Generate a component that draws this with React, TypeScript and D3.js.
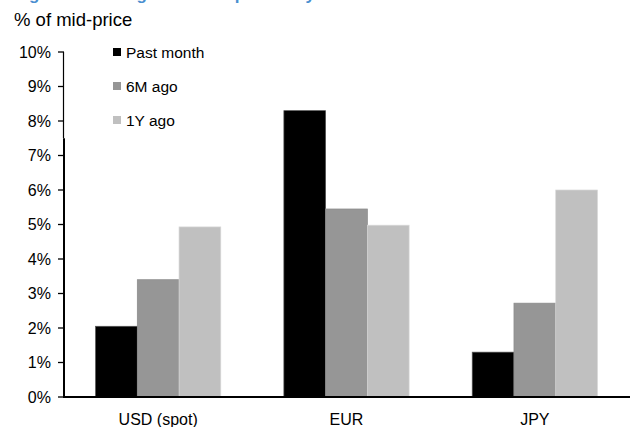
import React from "react";
import * as d3 from "d3";

const categories = ["USD (spot)", "EUR", "JPY"];
const seriesNames = ["Past month", "6M ago", "1Y ago"];
const pastMonth = [2.05, 8.3, 1.3];
const sixMonthsAgo = [3.4, 5.45, 2.72];
const oneYearAgo = [4.93, 4.98, 6.0];
const yTicks = [0, 1, 2, 3, 4, 5, 6, 7, 8, 9, 10];
const colors = ["#000000", "#969696", "#c0c0c0"];
const strokes = ["#555555", "#8a8a8a", "#d8d8d8"];

const W = 630;
const H = 427;
const left = 64;
const right = 629;
const top = 52;
const bottom = 397;
const FONT = "'Liberation Sans', Arial, sans-serif";

export default function App() {
  const series = [pastMonth, sixMonthsAgo, oneYearAgo];
  const x0 = d3.scaleBand<string>().domain(categories).range([left, right]).paddingInner(0.335).paddingOuter(0.1675);
  const x1 = d3.scaleBand<string>().domain(seriesNames).range([0, x0.bandwidth()]);
  const y = d3.scaleLinear().domain([0, 10]).range([bottom, top]);

  return (
    <svg width={W} height={H} style={{ position: "absolute", left: 0, top: 0, background: "#fff" }} fontFamily={FONT}>
      <text x={14} y={0} fontSize={17} fontWeight="bold" fill="#4a8fd0">Figure 9: Average bid-ask spreads by tenor</text>
      <text x={14} y={26} fontSize={18.5} fill="#000">% of mid-price</text>
      {categories.map((c, i) => (
        <g key={c}>
          {seriesNames.map((s, j) => {
            const v = series[j][i];
            return (
              <rect key={s} x={(x0(c) as number) + (x1(s) as number)} y={y(v)} width={x1.bandwidth()} height={y(0) - y(v)} fill={colors[j]} stroke={strokes[j]} strokeWidth={0.7} />
            );
          })}
          <text x={(x0(c) as number) + x0.bandwidth() / 2} y={425} textAnchor="middle" fontSize={16} fill="#000">{c}</text>
        </g>
      ))}
      {yTicks.map((t) => (
        <g key={t}>
          <line x1={58} x2={64} y1={y(t)} y2={y(t)} stroke="#000" strokeWidth={1.3} />
          <text x={51} y={y(t) + 5.5} textAnchor="end" fontSize={16} fill="#000">{t}%</text>
        </g>
      ))}
      <line x1={63.5} x2={63.5} y1={y(10)} y2={y(7.5)} stroke="#000" strokeWidth={1.2} />
      <line x1={64} x2={64} y1={y(7.5)} y2={bottom} stroke="#000" strokeWidth={2} />
      <line x1={63} x2={W} y1={bottom} y2={bottom} stroke="#000" strokeWidth={2.2} />
      {seriesNames.map((s, j) => (
        <g key={s}>
          <rect x={113} y={48 + j * 34} width={8} height={8} fill={colors[j]} />
          <text x={126} y={58 + j * 34} fontSize={15.5} fill="#000">{s}</text>
        </g>
      ))}
    </svg>
  );
}
